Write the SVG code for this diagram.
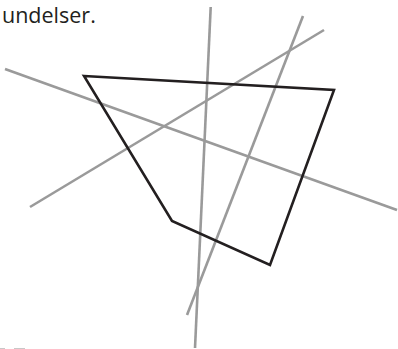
<svg xmlns="http://www.w3.org/2000/svg" width="398" height="349" viewBox="0 0 398 349">
<style>
.g{stroke:#9a9a9a;stroke-width:2.6;fill:none;stroke-linecap:butt}
.k{stroke:#231f20;stroke-width:2.6;fill:none;stroke-linejoin:miter}
.t{font-family:"Open Sans","Noto Sans",sans-serif;font-size:21.5px;fill:#231f20}
</style>
<rect width="398" height="349" fill="#fff"/>
<text class="t" x="2" y="23">undelser.</text>
<g id="connectors">
<line class="g" x1="210.7" y1="7" x2="195" y2="348"/>
<line class="g" x1="303" y1="16" x2="187" y2="315"/>
<line class="g" x1="30" y1="207" x2="324" y2="30"/>
<line class="g" x1="5" y1="69" x2="397" y2="210"/>
</g>
<g id="quad">
<polygon class="k" points="84,76 334,90 270,265 172,221"/>
</g>
<g id="marks" fill="#c8c8c8">
<rect x="0" y="348" width="5" height="1"/>
<rect x="14" y="348" width="11" height="1"/>
</g>
</svg>
